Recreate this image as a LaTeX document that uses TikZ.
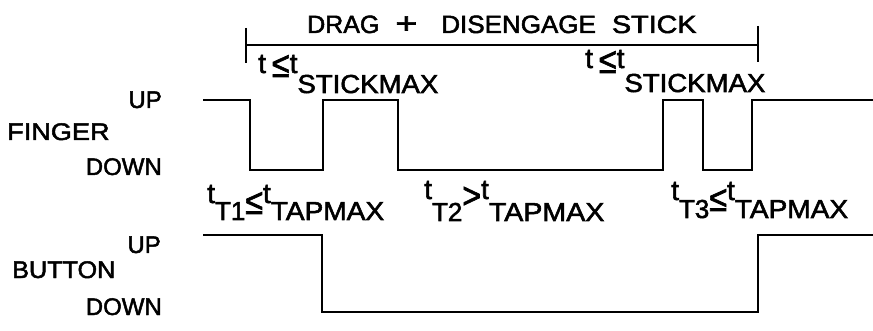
\documentclass[tikz,border=0pt]{standalone}
\usepackage{graphicx}
\usepackage{fontspec}
\setmainfont{Liberation Sans}
\newfontfamily\plotfont{Liberation Sans}[FakeBold=2]
\newcommand{\lowtext}[2]{\raisebox{-#1pt}{\fontsize{26}{26}\selectfont #2}}
\newcommand{\hs}[2]{\scalebox{#1}[1]{#2}}
\newcommand{\rel}[2]{\raisebox{-#1pt}{\scalebox{1.15}[1.3]{#2}}}
\tikzset{
  lbl/.style={inner sep=0pt, font=\plotfont\fontsize{24}{24}\selectfont},
  tlbl/.style={inner sep=0pt, font=\plotfont\fontsize{28}{28}\selectfont},
  wave/.style={line width=1.7pt, line join=miter, line cap=butt},
  brk/.style={line width=1.3pt}
}
\begin{document}
\begin{tikzpicture}[x=1pt,y=-1pt]
\useasboundingbox (0,0) rectangle (873,331);
% side labels
\node[lbl, anchor=base east] (fup) at (162,108) {UP};
\node[lbl, anchor=base west] (finger) at (7,140) {\hs{1.13}{FINGER}};
\node[lbl, anchor=base east] (fdown) at (162,175) {DOWN};
\node[lbl, anchor=base east] (bup) at (161,253) {UP};
\node[lbl, anchor=base west] (button) at (12,278) {\hs{1.05}{BUTTON}};
\node[lbl, anchor=base east] (bdown) at (162,315) {DOWN};
% top bracket
\node[lbl, font=\plotfont\fontsize{25}{25}\selectfont, anchor=base west] (drag) at (307,33)
  {DRAG\hspace{16pt}\scalebox{1.5}[1.15]{+}\hspace{24pt}\hs{1.04}{DISENGAGE}\hspace{16pt}\hs{1.15}{STICK}};
\coordinate (bl) at (246,45);
\coordinate (br) at (758,45);
\draw[brk] (bl) -- (br);
\draw[brk] ([yshift=17pt]bl) -- ([yshift=-18pt]bl);
\draw[brk] ([yshift=19pt]br) -- ([yshift=-17pt]br);
% stick labels
\node[tlbl, anchor=base west] (s1) at (258,73) {t\hspace{6pt}\rel{4}{≤}t\lowtext{20}{\hs{1.06}{STICKMAX}}};
\node[tlbl, anchor=base west] (s2) at (585,68) {t\hspace{6pt}\rel{5}{≤}t\lowtext{24}{\hs{1.06}{STICKMAX}}};
% tap labels
\node[tlbl, anchor=base west] (t1) at (207,203) {t\lowtext{17}{T1}\rel{11}{≤}t\lowtext{17}{\hs{1.08}{TAPMAX}}};
\node[tlbl, anchor=base west] (t2) at (424,199) {t\lowtext{22}{T2}\rel{9}{>}t\lowtext{22}{\hs{1.1}{TAPMAX}}};
\node[tlbl, anchor=base west] (t3) at (671,200) {t\lowtext{18}{T3}\rel{11}{≤}t\lowtext{18}{\hs{1.08}{TAPMAX}}};
% finger waveform
\draw[wave] (203,100) -- (250,100) -- (250,170) -- (323,170) -- (323,100)
  -- (398,100) -- (398,170) -- (663,170) -- (663,100) -- (703,100)
  -- (703,170) -- (752,170) -- (752,100) -- (873,100);
% button waveform
\draw[wave] (203,235) -- (322,235) -- (322,312) -- (758,312) -- (758,235) -- (873,235);
\end{tikzpicture}
\end{document}
